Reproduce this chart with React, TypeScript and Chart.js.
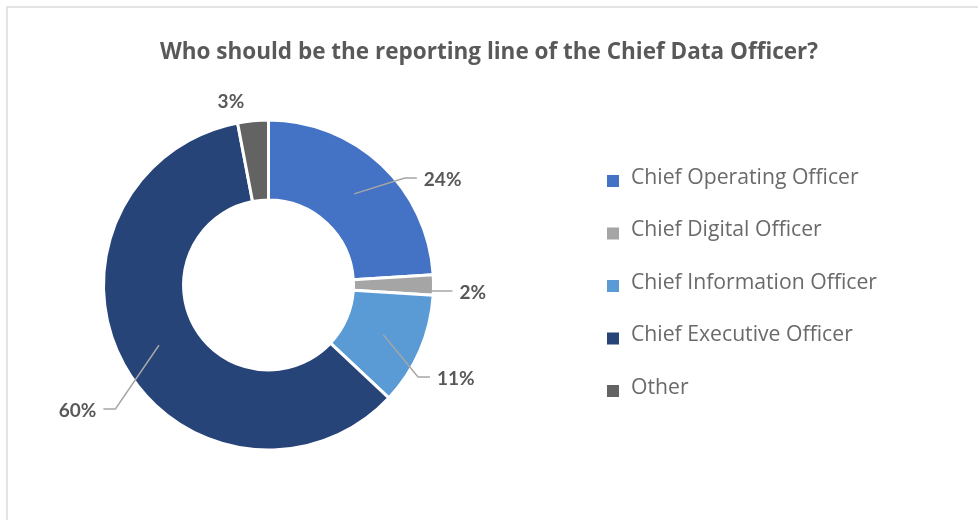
import React, { useEffect, useRef } from "react";
import { Chart, registerables } from "chart.js";

Chart.register(...registerables);

// ---------- data ----------
const TITLE = "Who should be the reporting line of the Chief Data Officer?";
const categories = [
  "Chief Operating Officer",
  "Chief Digital Officer",
  "Chief Information Officer",
  "Chief Executive Officer",
  "Other",
];
const shares = [24, 2, 11, 60, 3];
const sliceColors = ["#4472C4", "#A5A5A5", "#5B9BD5", "#264478", "#636363"];

// ---------- styles ----------
// label placement relative to each slice's mid-angle (degrees, clockwise) and outer radius
const labelPlacement = [
  { dAngle: 8.7, rFactor: 1.05, hLen: 12, line: true },
  { dAngle: 2.1, rFactor: 1.0, hLen: 19, line: true },
  { dAngle: 8.2, rFactor: 1.064, hLen: 12, line: true },
  { dAngle: -10.2, rFactor: 1.194, hLen: 12, line: true },
  { dAngle: -6.2, rFactor: 1.133, hLen: 0, line: false },
];
const TEXT_COLOR = "#595959";
const LEGEND_COLOR = "#6a6a6a";
const LEADER_COLOR = "#a6a6a6";
const FONT = "Lato, 'Open Sans', sans-serif";
const WIDE_FONT = "'Open Sans', Lato, sans-serif";

const legend = { x: 607, firstBaseline: 183.5, spacing: 52.5, box: 12, textX: 631, size: 21.2 };

const customPlugin = {
  id: "customDecor",
  afterDraw(chart: any) {
    const ctx = chart.ctx as CanvasRenderingContext2D;
    ctx.save();
    // title
    ctx.fillStyle = TEXT_COLOR;
    ctx.font = `bold 22.5px ${WIDE_FONT}`;
    ctx.textAlign = "center";
    ctx.textBaseline = "alphabetic";
    ctx.fillText(TITLE, chart.width / 2, 58.5);

    // legend
    const labels: string[] = chart.data.labels;
    const colors: string[] = chart.data.datasets[0].backgroundColor;
    ctx.font = `${legend.size}px ${WIDE_FONT}`;
    ctx.textAlign = "left";
    labels.forEach((lab, i) => {
      const base = legend.firstBaseline + i * legend.spacing;
      ctx.fillStyle = colors[i];
      ctx.fillRect(legend.x, base - 8.5, legend.box, legend.box);
      ctx.fillStyle = LEGEND_COLOR;
      ctx.fillText(lab, legend.textX, base);
    });

    // data labels with leader lines
    const meta = chart.getDatasetMeta(0);
    const values: number[] = chart.data.datasets[0].data;
    ctx.font = `bold 19px ${FONT}`;
    meta.data.forEach((arc: any, i: number) => {
      const p = arc.getProps(["x", "y", "startAngle", "endAngle", "innerRadius", "outerRadius"], true);
      const mid = (p.startAngle + p.endAngle) / 2;
      const st = labelPlacement[i];
      const a = mid + (st.dAngle * Math.PI) / 180;
      const r1 = p.outerRadius * st.rFactor;
      const ex = p.x + r1 * Math.cos(a);
      const ey = p.y + r1 * Math.sin(a);
      const text = `${values[i]}%`;
      ctx.fillStyle = TEXT_COLOR;
      if (!st.line) {
        ctx.textAlign = "center";
        ctx.textBaseline = "middle";
        ctx.fillText(text, ex, ey);
        return;
      }
      const rm = (p.innerRadius + p.outerRadius) / 2;
      const sx = p.x + rm * Math.cos(mid);
      const sy = p.y + rm * Math.sin(mid);
      const right = Math.cos(a) >= 0;
      const hx = ex + (right ? st.hLen : -st.hLen);
      ctx.strokeStyle = LEADER_COLOR;
      ctx.lineWidth = 1.5;
      ctx.beginPath();
      ctx.moveTo(sx, sy);
      ctx.lineTo(ex, ey);
      ctx.lineTo(hx, ey);
      ctx.stroke();
      ctx.textAlign = right ? "left" : "right";
      ctx.textBaseline = "middle";
      ctx.fillText(text, hx + (right ? 7 : -7), ey + 1.5);
    });
    ctx.restore();
  },
};

export default function App() {
  const ref = useRef<HTMLCanvasElement | null>(null);
  useEffect(() => {
    if (!ref.current) return;
    const chart = new Chart(ref.current, {
      type: "doughnut",
      data: {
        labels: categories,
        datasets: [
          {
            data: shares,
            backgroundColor: sliceColors,
            borderColor: "#ffffff",
            borderWidth: 3,
            hoverOffset: 0,
          },
        ],
      },
      options: {
        responsive: false,
        animation: false,
        cutout: "51.5%",
        layout: { padding: { left: 102, right: 543, top: 118.5, bottom: 68.5 } },
        plugins: {
          legend: { display: false },
          title: { display: false },
          tooltip: { enabled: false },
        },
      },
      plugins: [customPlugin],
    });
    return () => chart.destroy();
  }, []);

  return (
    <div style={{ position: "fixed", left: 0, top: 0, width: 978, height: 520, background: "#fff" }}>
      <div
        style={{
          position: "absolute",
          left: 6,
          top: 6,
          width: 1000,
          height: 540,
          borderLeft: "2px solid #e4e4e4",
          borderTop: "2px solid #e4e4e4",
          boxSizing: "border-box",
        }}
      />
      <canvas
        ref={ref}
        width={978}
        height={520}
        style={{ position: "absolute", left: 0, top: 0, width: 978, height: 520 }}
      />
    </div>
  );
}
